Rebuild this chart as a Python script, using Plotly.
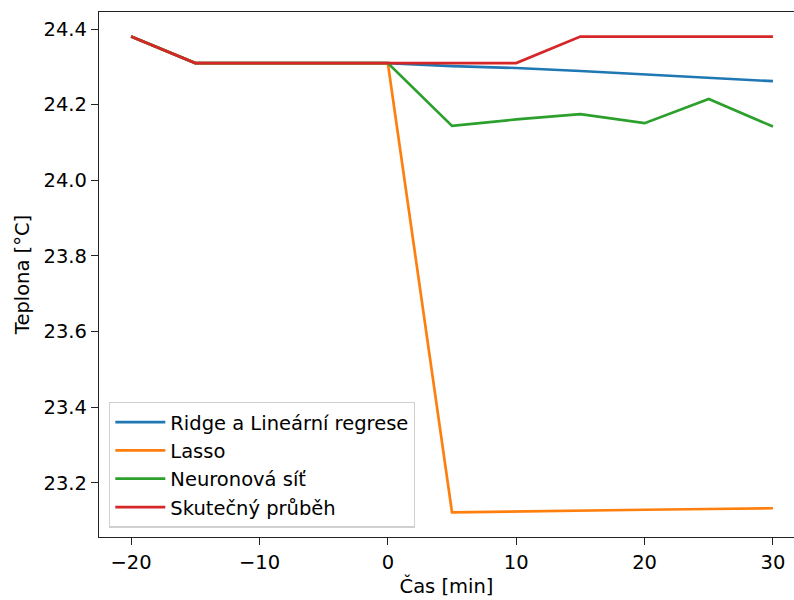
import plotly.graph_objects as go

cas = [-20, -15, -10, -5, 0, 5, 10, 15, 20, 25, 30]
ridge = [24.38, 24.31, 24.31, 24.31, 24.31, 24.302, 24.297, 24.289, 24.280, 24.271, 24.262]
lasso = [24.38, 24.31, 24.31, 24.31, 24.31, 23.122, 23.125, 23.127, 23.129, 23.131, 23.133]
neuron = [24.38, 24.31, 24.31, 24.31, 24.31, 24.144, 24.161, 24.175, 24.151, 24.215, 24.142]
skutecny = [24.38, 24.31, 24.31, 24.31, 24.31, 24.31, 24.31, 24.38, 24.38, 24.38, 24.38]

names = ["Ridge a Lineární regrese", "Lasso", "Neuronová síť", "Skutečný průběh"]
colors = ["#1f77b4", "#ff7f0e", "#2ca02c", "#d62728"]
series = [ridge, lasso, neuron, skutecny]

fig = go.Figure()
for n, c, s in zip(names, colors, series):
    fig.add_trace(go.Scatter(x=cas, y=s, mode="lines", name=n,
                             line=dict(color=c, width=2.7)))

font = "DejaVu Sans"
fs = 19.5
fig.update_layout(
    width=794, height=600,
    margin=dict(l=99, r=0, t=12, b=63),
    plot_bgcolor="white", paper_bgcolor="white",
    font=dict(family=font, size=fs, color="black"),
    legend=dict(x=0.0144, y=0.018, xanchor="left", yanchor="bottom",
                bgcolor="rgba(255,255,255,0.8)", bordercolor="#d0d0d0", borderwidth=1.3,
                font=dict(size=fs), tracegroupgap=0, itemwidth=50),
    showlegend=True,
)
fig.update_xaxes(range=[-22.5, 31.64], tickvals=[-20, -10, 0, 10, 20, 30],
                 ticks="outside", ticklen=7, tickwidth=1.2, tickcolor="#222",
                 showline=True, linewidth=1.3, linecolor="#222", mirror=True,
                 showgrid=False, zeroline=False,
                 title=dict(text="Čas [min]", font=dict(size=fs), standoff=6))
fig.update_yaxes(range=[23.057, 24.445], tickvals=[23.2, 23.4, 23.6, 23.8, 24.0, 24.2, 24.4],
                 tickformat=".1f",
                 ticks="outside", ticklen=7, tickwidth=1.2, tickcolor="#222",
                 showline=True, linewidth=1.3, linecolor="#222", mirror=False,
                 showgrid=False, zeroline=False,
                 title=dict(text="Teplona [°C]", font=dict(size=fs), standoff=8))

fig.write_html("out.html")
